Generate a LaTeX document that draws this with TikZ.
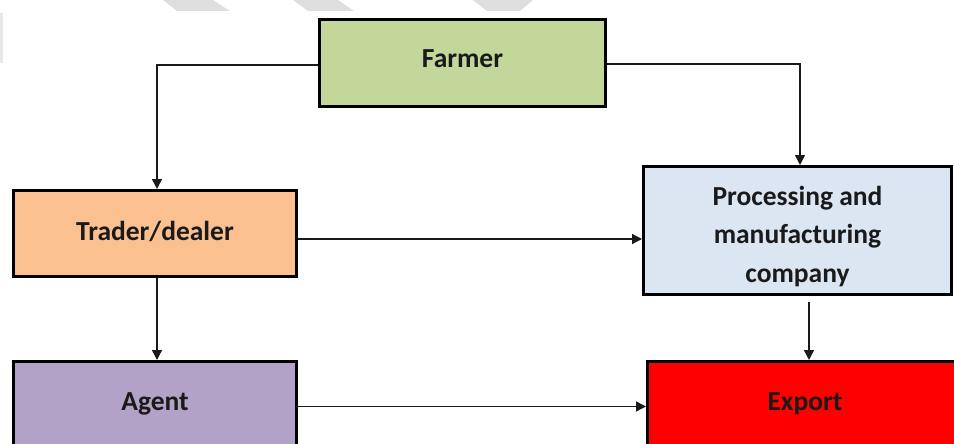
\documentclass[tikz,border=0pt]{standalone}
\usepackage{fontspec}
\setmainfont{Carlito}
\usetikzlibrary{arrows.meta}
\definecolor{farmerfill}{HTML}{C4D79B}
\definecolor{traderfill}{HTML}{FAC090}
\definecolor{agentfill}{HTML}{B3A2C7}
\definecolor{procfill}{HTML}{DCE6F2}
\definecolor{exportfill}{HTML}{FF0000}
\definecolor{markgrey}{HTML}{DEDEDE}
\definecolor{linegrey}{HTML}{1A1A1A}
\begin{document}
\begin{tikzpicture}[x=1pt,y=-1pt,
  box/.style={draw=black, line width=3pt, inner sep=0pt,
    font=\fontsize{27.5}{38.5}\selectfont\bfseries, text=linegrey},
  single/.style={text height=18pt},
  conn/.style={line width=1.4pt, draw=linegrey,
    -{Triangle[length=10pt,width=10pt]}}]
\useasboundingbox (0,0) rectangle (954,444);
\clip (0,0) rectangle (954,444);

% faint grey marks along the top edge
\fill[markgrey] (163,0) -- (213,0) -- (230,11) -- (177,11) -- cycle;
\fill[markgrey] (293,0) -- (338,0) -- (354,11) -- (308,11) -- cycle;
\fill[markgrey] (473,0) -- (533,0) -- (520,11) -- (487,11) -- cycle;
\fill[markgrey!70] (0,13) rectangle (2.5,63);

% boxes
\node[box, single, fill=farmerfill, minimum width=286pt, minimum height=87pt,
  text depth=8pt] (farmer) at (462.5,63) {Farmer};
\node[box, single, fill=traderfill, minimum width=283pt, minimum height=86pt,
  text depth=5pt] (trader) at (155,233.5) {Trader/dealer};
\node[box, single, fill=agentfill, minimum width=283pt, minimum height=86pt,
  text depth=7pt] (agent) at (155,404.5) {Agent};
\node[box, fill=procfill, minimum width=308pt, minimum height=128pt,
  align=center] (proc) at (797.5,230.5)
  {\rule{0pt}{31pt}Processing and\\manufacturing\\company};
\node[box, single, fill=exportfill, minimum width=315pt, minimum height=86pt,
  text depth=7pt] (export) at (805,404.5) {Export};

% connector end points
\coordinate (fw) at ([yshift=-2pt]farmer.west);
\coordinate (fe) at ([yshift=-1pt]farmer.east);
\coordinate (te) at ([yshift=-5.5pt]trader.east);
\coordinate (ts) at ([xshift=2pt]trader.south);
\coordinate (ae) at ([yshift=-2pt]agent.east);
\coordinate (ps) at ([xshift=11.5pt,yshift=-6pt]proc.south);

% connectors
\draw[conn] (fw) -| ([xshift=2pt]trader.north);
\draw[conn] (fe) -| ([xshift=2.5pt]proc.north);
\draw[conn] (te) -- (te -| proc.west);
\draw[conn] (ts) -- (ts |- agent.north);
\draw[conn] (ae) -- (ae -| export.west);
\draw[conn] (ps) -- (ps |- export.north);
\end{tikzpicture}
\end{document}
